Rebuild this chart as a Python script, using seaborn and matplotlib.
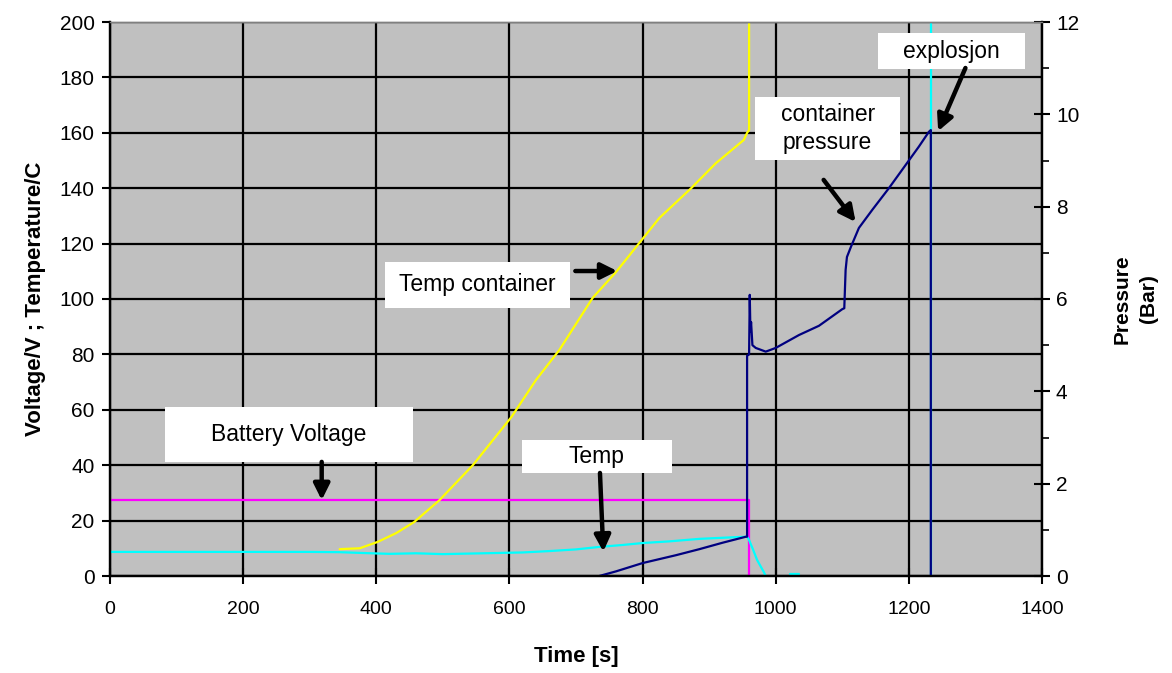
import matplotlib
matplotlib.use("Agg")
import matplotlib.pyplot as plt
from matplotlib.patches import Rectangle
from matplotlib.ticker import MultipleLocator
import numpy as np
import pandas as pd
import seaborn as sns

# ---- measured series -------------------------------------------------------
# Battery voltage (V), left axis
volt_t = [0, 960, 960]
volt_v = [27.4, 27.4, 0]

# Cell temperature (C), left axis
temp_t = [0, 100, 200, 300, 345, 380, 420, 460, 500, 540, 580, 620, 660, 700,
          735, 770, 800, 840, 885, 920, 957, 960, 966, 972, 978, 982, 985]
temp_v = [8.7, 8.7, 8.7, 8.7, 8.6, 8.3, 8.0, 8.2, 7.9, 8.1, 8.3, 8.5, 9.0, 9.6,
          10.5, 11.2, 11.9, 12.5, 13.4, 13.8, 14.2, 13.0, 9.5, 5.8, 3.2, 1.5, 0]
temp_blip_t = [1022, 1035]
temp_blip_v = [0.8, 0.8]
temp_spike_t = [1234, 1234]
temp_spike_v = [0, 210]

# Container temperature (C), left axis
cont_t = [345, 375, 402, 430, 457, 495, 545, 603, 640, 675, 725, 760, 795,
          825, 873, 910, 952, 957, 960, 960]
cont_v = [9.7, 10.0, 12.3, 15.5, 19.5, 27.4, 40.0, 57.4, 70.8, 81.6, 100.4,
          109.7, 120.2, 129.2, 140.0, 149.0, 157.4, 160.0, 161.0, 210.0]

# Container pressure (bar), right axis
pres_t = [735, 760, 800, 850, 885, 920, 955, 957, 957, 960, 961, 962, 963,
          965, 970, 985, 1000, 1035, 1065, 1100, 1103, 1105, 1107, 1113, 1125,
          1145, 1170, 1195, 1215, 1230, 1233, 1233]
pres_p = [0, 0.1, 0.28, 0.45, 0.58, 0.72, 0.85, 0.85, 4.77, 4.8, 6.09, 5.3,
          5.5, 5.0, 4.94, 4.86, 4.94, 5.22, 5.42, 5.78, 5.8, 6.63, 6.91, 7.13,
          7.54, 7.93, 8.4, 8.9, 9.3, 9.62, 9.66, 0]

x_ticks = [0, 200, 400, 600, 800, 1000, 1200, 1400]
y_ticks = [0, 20, 40, 60, 80, 100, 120, 140, 160, 180, 200]
p_ticks = [0, 2, 4, 6, 8, 10, 12]

# ---- styling ---------------------------------------------------------------
sns.set_theme(style="ticks")
plt.rcParams["font.family"] = ["Liberation Sans", "DejaVu Sans"]
plt.rcParams.update({"text.color": "black", "axes.labelcolor": "black",
                     "xtick.color": "black", "ytick.color": "black",
                     "xtick.labelcolor": "black", "ytick.labelcolor": "black"})

fig = plt.figure(figsize=(11.72, 6.73), dpi=100)
ax = fig.add_axes([110 / 1172, 1 - 576 / 673, 932 / 1172, 554 / 673])
ax.set_facecolor("#c0c0c0")
ax2 = ax.twinx()


def trace(axis, t, v, color):
    df = pd.DataFrame({"t": t, "v": v})
    sns.lineplot(data=df, x="t", y="v", ax=axis, color=color, lw=1.6,
                 sort=False, estimator=None, legend=False)


trace(ax, volt_t, volt_v, "#ff00ff")
trace(ax, cont_t, cont_v, "#ffff00")
trace(ax, temp_t, temp_v, "#00ffff")
trace(ax, temp_blip_t, temp_blip_v, "#00ffff")
trace(ax, temp_spike_t, temp_spike_v, "#00ffff")
trace(ax2, pres_t, pres_p, "#000080")

ax.set_xlim(0, 1400)
ax.set_ylim(0, 200)
ax2.set_ylim(0, 12)
ax.set_xticks(x_ticks)
ax.set_yticks(y_ticks)
ax2.set_yticks(p_ticks)
ax2.yaxis.set_minor_locator(MultipleLocator(1))

ax.grid(True, color="black", lw=1.6)
ax.set_axisbelow(True)

for a in (ax, ax2):
    for side in ("left", "right", "bottom"):
        a.spines[side].set_color("black")
        a.spines[side].set_linewidth(1.6)
    a.spines["top"].set_color("#808080")
    a.spines["top"].set_linewidth(1.0)

ax.tick_params(axis="y", which="major", direction="out", length=6,
               width=1.5, color="black", labelcolor="black", labelsize=15,
               pad=5)
ax.tick_params(axis="x", direction="inout", length=12, width=1.5,
               color="black", labelcolor="black", labelsize=14, pad=12)
ax2.tick_params(axis="y", which="major", direction="inout", length=12,
                width=1.5, color="black", labelcolor="black", labelsize=15,
                pad=4)
ax2.tick_params(axis="y", which="minor", direction="out", length=5,
                width=1.2, color="black")

ax.set_xlabel("Time [s]", fontsize=16, fontweight="bold", labelpad=20,
              color="black")
ax.set_ylabel("Voltage/V ; Temperature/C", fontsize=16, fontweight="bold",
              labelpad=10, color="black")
ax2.set_ylabel("Pressure\n(Bar)", fontsize=15, fontweight="bold",
               rotation=90, linespacing=1.5, color="black")
ax2.yaxis.set_label_coords(1.1, 0.5)
ax2.yaxis.label.set_verticalalignment("center")

# ---- annotations (drawn on the top axes so they cover the traces) -------------
callouts = [
    # text, box (x0, x1, y0, y1) in left-axis units, arrow start, arrow tip
    ("Battery Voltage", (83, 455, 41.2, 61.0), (318, 41.2), (318, 27.4)),
    ("Temp", (619, 844, 37.2, 49.1), (736, 37.2), (741, 8.8)),
    ("Temp container", (413, 691, 96.8, 113.4), (699, 110.1), (762, 110.1)),
    ("container\npressure", (969, 1187, 150.2, 172.9), (1072, 143.0),
     (1120, 127.8)),
    ("explosjon", (1154, 1374, 183.0, 196.0), (1285, 183.4), (1244, 160.6)),
]
for label, (x0, x1, y0, y1), start, tip in callouts:
    ax2.add_patch(Rectangle((x0, y0), x1 - x0, y1 - y0, transform=ax.transData,
                            facecolor="white", edgecolor="none", zorder=5,
                            clip_on=False))
    ax2.text((x0 + x1) / 2, (y0 + y1) / 2, label, transform=ax.transData,
             ha="center", va="center", fontsize=16.5, color="black", zorder=6,
             linespacing=1.25)
    ax2.annotate("", xy=tip, xytext=start, xycoords=ax.transData,
                 textcoords=ax.transData, zorder=6,
                 arrowprops=dict(arrowstyle="-|>", color="black", lw=3.2,
                                 mutation_scale=24, shrinkA=0, shrinkB=0))

fig.savefig("out.png", dpi=100, facecolor="white")
